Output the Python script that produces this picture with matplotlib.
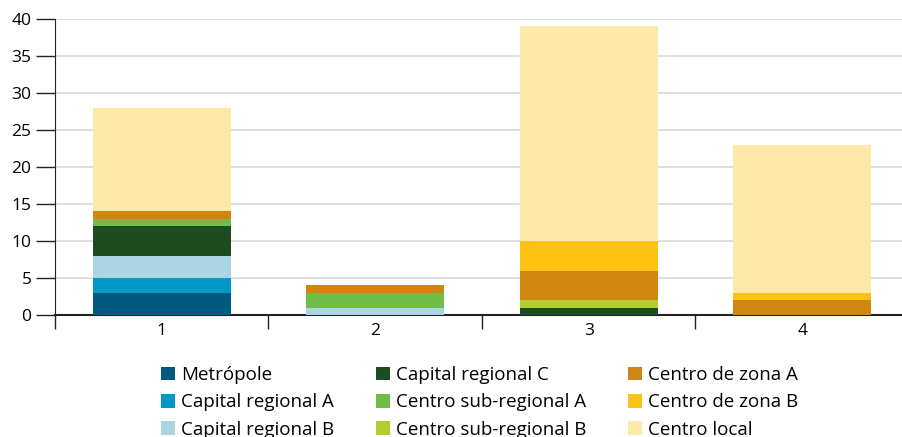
import matplotlib
matplotlib.use("Agg")
import matplotlib.pyplot as plt
import numpy as np

categories = ["1", "2", "3", "4"]
series_names = ["Metrópole", "Capital regional A", "Capital regional B",
                "Capital regional C", "Centro sub-regional A", "Centro sub-regional B",
                "Centro de zona A", "Centro de zona B", "Centro local"]
metropole = [3, 0, 0, 0]
cap_a = [2, 0, 0, 0]
cap_b = [3, 1, 0, 0]
cap_c = [4, 0, 1, 0]
sub_a = [1, 2, 0, 0]
sub_b = [0, 0, 1, 0]
zona_a = [1, 1, 4, 2]
zona_b = [0, 0, 4, 1]
local = [14, 0, 29, 20]
colors = ["#005a80", "#0399c6", "#abd5e2", "#1e4c22", "#70be48",
          "#b3cc2e", "#cf8711", "#fdc314", "#feeaa8"]

series = [metropole, cap_a, cap_b, cap_c, sub_a, sub_b, zona_a, zona_b, local]

plt.rcParams['font.family'] = ['Open Sans', 'DejaVu Sans']

fig = plt.figure(figsize=(9.03, 4.37), dpi=100)
ax = fig.add_axes([55/903, 1-315/437, 854/903, 296/437])

x = np.arange(1, len(categories)+1)
bottom = np.zeros(len(categories))
handles = []
for name, vals, c in zip(series_names, series, colors):
    v = np.array(vals, dtype=float)
    b = ax.bar(x, v, 0.646, bottom=bottom, color=c, label=name, zorder=3)
    handles.append(b)
    bottom += v

ax.set_xlim(0.5, 4.5)
ax.set_ylim(0, 40)
ax.set_yticks(range(0, 41, 5))
ax.yaxis.grid(True, color="#dcdcdc", linewidth=1.3, zorder=0)
ax.set_axisbelow(True)
for s in ["top", "right"]:
    ax.spines[s].set_visible(False)
ax.spines["left"].set_color("#222222")
ax.spines["bottom"].set_color("#222222")
ax.spines["bottom"].set_linewidth(1.5)
ax.tick_params(axis="y", length=14, width=1, color="#222222", labelsize=12.5, pad=3)
ax.set_xticks(x, minor=True)
ax.set_xticklabels(categories, minor=True)
ax.tick_params(axis="x", which="major", length=10, width=1, color="#222222", direction="out")
ax.tick_params(axis="x", which="minor", length=0, labelsize=12.5, pad=6)
ax.set_xticks([0.5, 1.5, 2.5, 3.5])
ax.set_xticklabels(["", "", "", ""])

fig.legend(handles=handles, labels=series_names, ncol=3, frameon=False,
           loc="upper left", bbox_to_anchor=(161/903, 1-366/437),
           fontsize=13.5, handlelength=0.75, handleheight=0.75, handletextpad=0.3,
           columnspacing=2.25, labelspacing=0.5, borderaxespad=0, borderpad=0)

fig.savefig("out.png", dpi=100)
